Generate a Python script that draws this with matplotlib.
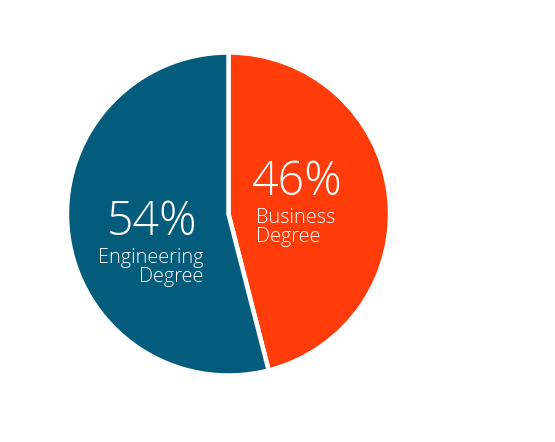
import matplotlib
matplotlib.use("Agg")
import matplotlib.pyplot as plt

# data
labels = ["Business\nDegree", "Engineering\nDegree"]
shares = [46, 54]
colors = ["#FF3C0A", "#035C7B"]

W, H = 555, 442
fig = plt.figure(figsize=(W / 100, H / 100), dpi=100)
fig.patch.set_facecolor("white")

cx, cy, r = 228.5, 214, 161.5
ax = fig.add_axes([(cx - r) / W, (H - cy - r) / H, 2 * r / W, 2 * r / H])
ax.pie(shares, colors=colors, startangle=90, counterclock=False,
       wedgeprops=dict(edgecolor="white", linewidth=3.2))
ax.set_xlim(-1, 1)
ax.set_ylim(-1, 1)
ax.axis("off")


def px(x, y):
    return x / W, (H - y) / H


font = dict(family="Open Sans", color="white", weight="light")

# Business slice
fig.text(*px(251, 195), f"{shares[0]}%", fontsize=33.5, ha="left", va="baseline", **font)
fig.text(*px(256, 223), "Business", fontsize=14.3, ha="left", va="baseline", **font)
fig.text(*px(256, 242), "Degree", fontsize=14.3, ha="left", va="baseline", **font)

# Engineering slice
fig.text(*px(197, 235), f"{shares[1]}%", fontsize=33.5, ha="right", va="baseline", **font)
fig.text(*px(203, 263), "Engineering", fontsize=14.3, ha="right", va="baseline", **font)
fig.text(*px(203, 282), "Degree", fontsize=14.3, ha="right", va="baseline", **font)

fig.savefig("out.png", dpi=100, facecolor="white")
